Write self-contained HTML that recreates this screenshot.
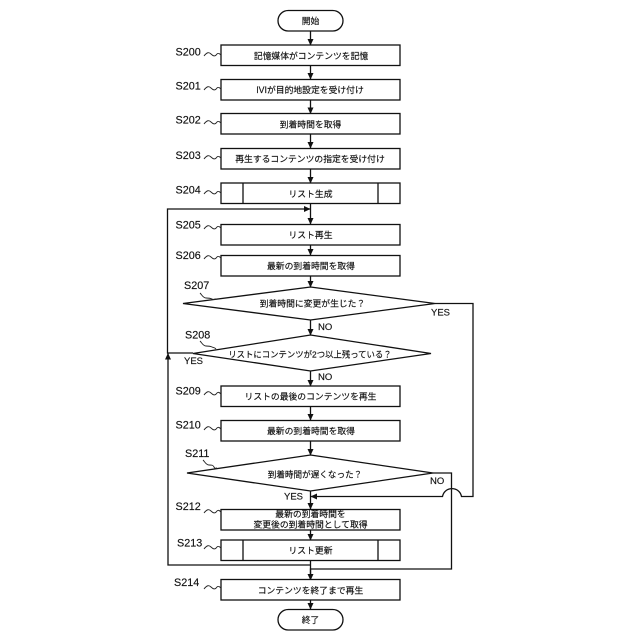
<!DOCTYPE html>
<html>
<head>
<meta charset="utf-8">
<style>
html,body{margin:0;padding:0;background:#fff;width:640px;height:640px;overflow:hidden}
svg{display:block}
text{font-family:"Liberation Sans","Noto Sans CJK JP",sans-serif;fill:#111;stroke:#111;stroke-width:.15}
.t{font-size:8.8px;text-anchor:middle;dominant-baseline:central}
.s{font-size:10.8px;dominant-baseline:central}
.y{font-size:9.5px;dominant-baseline:central}
.b{fill:#fff;stroke:#111;stroke-width:1.3}
.l{fill:none;stroke:#111;stroke-width:1.3}
.w{fill:none;stroke:#222;stroke-width:.9}
</style>
</head>
<body>
<svg width="640" height="640" viewBox="0 0 640 640" xmlns="http://www.w3.org/2000/svg">
<defs>
<marker id="a" markerWidth="7" markerHeight="6" refX="6" refY="3" orient="auto" markerUnits="userSpaceOnUse"><path d="M0 0L6.5 3L0 6Z" fill="#111"/></marker>
</defs>

<!-- vertical connectors -->
<g class="l" marker-end="url(#a)">
<path class="l" d="M310.500 31V45" marker-end="url(#a)"/>
<path class="l" d="M310.500 65V79" marker-end="url(#a)"/>
<path class="l" d="M310.500 100V113.500" marker-end="url(#a)"/>
<path class="l" d="M310.500 134V148" marker-end="url(#a)"/>
<path class="l" d="M310.500 169V183" marker-end="url(#a)"/>
<path class="l" d="M310.500 203V224" marker-end="url(#a)"/>
<path class="l" d="M310.500 245V255" marker-end="url(#a)"/>
<path class="l" d="M310.500 276V287" marker-end="url(#a)"/>
<path class="l" d="M310.500 320V335" marker-end="url(#a)"/>
<path class="l" d="M310.500 371V386" marker-end="url(#a)"/>
<path class="l" d="M310.500 406V420" marker-end="url(#a)"/>
<path class="l" d="M310.500 441V455" marker-end="url(#a)"/>
<path class="l" d="M310.500 491V509" marker-end="url(#a)"/>
<path class="l" d="M310.500 530V540" marker-end="url(#a)"/>
<path class="l" d="M310.500 560V580" marker-end="url(#a)"/>
<path class="l" d="M310.500 600V609" marker-end="url(#a)"/>
</g>

<!-- loops -->
<path class="l" d="M193 353H167.500V209H310" marker-end="url(#a)"/>
<path class="l" d="M310.500 565H168V353.500" marker-end="url(#a)"/>
<path class="l" d="M435 303.500H473V496.500H461.500C459.500 486 444.500 486 442.500 496.500H311" marker-end="url(#a)"/>
<path class="l" d="M433 473H451.500V569H310.500V580"/>

<!-- terminals -->
<rect class="b" x="278" y="10.500" width="65" height="20.500" rx="10.200"/>
<rect class="b" x="278" y="609.500" width="65" height="20.500" rx="10.200"/>

<!-- boxes -->
<rect class="b" x="221" y="45" width="179" height="20.500"/>
<rect class="b" x="221" y="79.500" width="179" height="20.500"/>
<rect class="b" x="221" y="113.500" width="179" height="20.500"/>
<rect class="b" x="221" y="148.500" width="179" height="20.500"/>
<rect class="b" x="221" y="183" width="179" height="20.500"/>
<path class="l" d="M243 183V203.500M378 183V203.500"/>
<rect class="b" x="221" y="224.500" width="179" height="20.500"/>
<rect class="b" x="221" y="255.500" width="179" height="20.500"/>
<rect class="b" x="221" y="386" width="179" height="20.500"/>
<rect class="b" x="221" y="420.500" width="179" height="20.500"/>
<rect class="b" x="221" y="509.500" width="179" height="20.500"/>
<rect class="b" x="221" y="540" width="179" height="20.500"/>
<path class="l" d="M243 540V560.500M378 540V560.500"/>
<rect class="b" x="221" y="579.500" width="179" height="20.500"/>

<!-- diamonds -->
<polygon class="b" points="310.500,287 435,303.500 310.500,320 183,303.500"/>
<polygon class="b" points="310.500,335 431,353.500 310.500,371 193,353.500"/>
<polygon class="b" points="310.500,455 433,473 310.500,491 187,473"/>

<!-- node labels -->
<text class="t" x="310.500" y="21">開始</text>
<text class="t" x="311" y="56">記憶媒体がコンテンツを記憶</text>
<text class="t" x="310" y="90">IVIが目的地設定を受け付け</text>
<text class="t" x="310.500" y="124.500">到着時間を取得</text>
<text class="t" x="310" y="159">再生するコンテンツの指定を受け付け</text>
<text class="t" x="310.500" y="194">リスト生成</text>
<text class="t" x="310.500" y="235">リスト再生</text>
<text class="t" x="311" y="266">最新の到着時間を取得</text>
<text class="t" x="312.500" y="303.500">到着時間に変更が生じた？</text>
<text class="t" style="font-size:8.4px" x="310" y="354.500">リストにコンテンツが2つ以上残っている？</text>
<text class="t" x="310.500" y="396.500">リストの最後のコンテンツを再生</text>
<text class="t" x="311" y="431">最新の到着時間を取得</text>
<text class="t" style="font-size:8.6px" x="315" y="474.500">到着時間が遅くなった？</text>
<text class="t" x="310.500" y="514">最新の到着時間を</text>
<text class="t" x="310.500" y="524.500">変更後の到着時間として取得</text>
<text class="t" x="310.500" y="550.500">リスト更新</text>
<text class="t" x="310.500" y="590.500">コンテンツを終了まで再生</text>
<text class="t" x="310.500" y="620">終了</text>

<!-- branch labels -->
<text class="y" x="318" y="327.500">NO</text>
<text class="y" x="431" y="313">YES</text>
<text class="y" x="184" y="361.500">YES</text>
<text class="y" x="318" y="377.500">NO</text>
<text class="y" x="430" y="481.500">NO</text>
<text class="y" x="284" y="497">YES</text>

<!-- step labels -->
<text class="s" x="175.500" y="52.500">S200</text>
<text class="s" x="175.500" y="86.500">S201</text>
<text class="s" x="175.500" y="120.500">S202</text>
<text class="s" x="175.500" y="156">S203</text>
<text class="s" x="175.500" y="190.500">S204</text>
<text class="s" x="175.500" y="225.500">S205</text>
<text class="s" x="175.500" y="256">S206</text>
<text class="s" x="184" y="286">S207</text>
<text class="s" x="185" y="335.500">S208</text>
<text class="s" x="175.500" y="391.500">S209</text>
<text class="s" x="175.500" y="425.500">S210</text>
<text class="s" x="185" y="454">S211</text>
<text class="s" x="175.500" y="507">S212</text>
<text class="s" x="177" y="543.500">S213</text>
<text class="s" x="174" y="583">S214</text>

<!-- squiggles -->
<path class="w" d="M204 56c3-4 5-4 7-2s4 3 6 0c1-1 2-1 4 1"/>
<path class="w" d="M204 90c3-4 5-4 7-2s4 3 6 0c1-1 2-1 4 1"/>
<path class="w" d="M204 124c3-4 5-4 7-2s4 3 6 0c1-1 2-1 4 1"/>
<path class="w" d="M204 159c3-4 5-4 7-2s4 3 6 0c1-1 2-1 4 1"/>
<path class="w" d="M204 194c3-4 5-4 7-2s4 3 6 0c1-1 2-1 4 1"/>
<path class="w" d="M204 229c3-4 5-4 7-2s4 3 6 0c1-1 2-1 4 1"/>
<path class="w" d="M204 259c3-4 5-4 7-2s4 3 6 0c1-1 2-1 4 1"/>
<path class="w" d="M200 293c2 2 3 5 6 5s4 0 6 1 2 0 4 0"/>
<path class="w" d="M200 341c2 2 3 5 6 5s4 0 6 1 2 0 4 2"/>
<path class="w" d="M204 395c3-4 5-4 7-2s4 3 6 0c1-1 2-1 4 1"/>
<path class="w" d="M204 430c3-4 5-4 7-2s4 3 6 0c1-1 2-1 4 1"/>
<path class="w" d="M203 460c2 2 3 5 6 5s4 0 5 2 1 1 3 1"/>
<path class="w" d="M204 513c3-4 5-4 7-2s4 3 6 0c1-1 2-1 4 1"/>
<path class="w" d="M204 549c3-4 5-4 7-2s4 3 6 0c1-1 2-1 4 1"/>
<path class="w" d="M204 589c3-4 5-4 7-2s4 3 6 0c1-1 2-1 4 1"/>
</svg>
</body>
</html>
